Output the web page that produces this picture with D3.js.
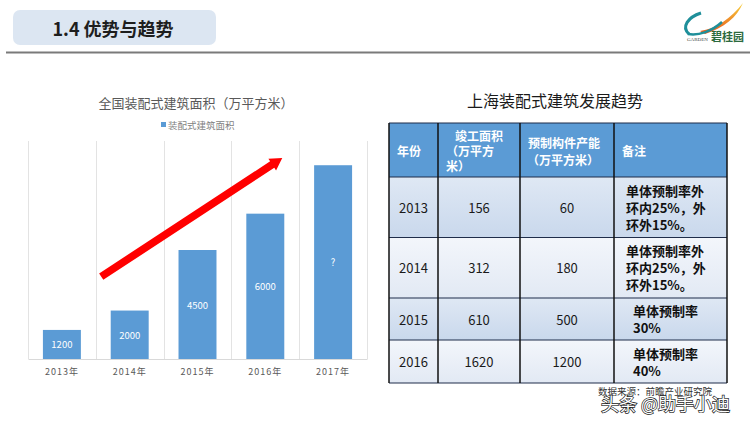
<!DOCTYPE html>
<html>
<head>
<meta charset="utf-8">
<script src="https://cdn.jsdelivr.net/npm/d3@7"></script>
<style>
  html, body { margin: 0; padding: 0; background: #fff; }
  svg { display: block; font-family: "Noto Sans CJK SC", "Noto Sans", sans-serif; }
</style>
</head>
<body>
<script>
// bar chart data
var chartYears = ["2013年", "2014年", "2015年", "2016年", "2017年"];
var areaValues = [1200, 2000, 4500, 6000, 8000];
var barLabels = ["1200", "2000", "4500", "6000", "?"];

// table data
var tableHeaders = [["年份"], ["竣工面积", "（万平方", "米）"], ["预制构件产能", "（万平方米）"], ["备注"]];
var tableYears = ["2013", "2014", "2015", "2016"];
var completedArea = ["156", "312", "610", "1620"];
var prefabCapacity = ["60", "180", "500", "1200"];
var tableNotes = [
	["单体预制率外", "环内25%，外", "环外15%。"],
	["单体预制率外", "环内25%，外", "环外15%。"],
	["单体预制率", "30%"],
	["单体预制率", "40%"]
];

var width = 750, height = 421;
var svg = d3.select("body")
	.append("svg")
		.attr("width", width)
		.attr("height", height);

var defs = svg.append("defs");
function addGrad(id, top, bottom) {
	var g = defs.append("linearGradient").attr("id", id)
		.attr("x1", 0).attr("y1", 0).attr("x2", 0).attr("y2", 1);
	g.append("stop").attr("offset", "0%").attr("stop-color", top);
	g.append("stop").attr("offset", "100%").attr("stop-color", bottom);
}
addGrad("rowDark", "#dfe8f4", "#c9d8ec");
addGrad("rowLight", "#f3f6fb", "#e2e9f4");
addGrad("flame", "#f7d23c", "#e8561c");

// ---------- header ----------
svg.append("rect")
		.attr("x", 13).attr("y", 10)
		.attr("width", 203).attr("height", 35)
		.attr("rx", 7).attr("ry", 7)
		.attr("fill", "#dce6f2");
svg.append("text")
		.attr("x", 113).attr("y", 28)
		.attr("text-anchor", "middle")
		.attr("dominant-baseline", "central")
		.attr("font-size", 18)
		.attr("font-weight", "bold")
		.attr("fill", "#1e1e1e")
		.text("1.4 优势与趋势");
svg.append("line")
		.attr("x1", 6).attr("x2", 750)
		.attr("y1", 52.5).attr("y2", 52.5)
		.attr("stroke", "#7a7a7a")
		.attr("stroke-width", 2);

// logo
var logo = svg.append("g");
logo.append("path")
		.attr("d", "M700,31 C716,29 731,18 743,3 C737,17 724,28 705,34 Z")
		.attr("fill", "url(#flame)");
logo.append("path")
		.attr("d", "M689,34 C681,27 688,17 701,13")
		.attr("fill", "none").attr("stroke", "#1f8f9a").attr("stroke-width", 3);
logo.append("path")
		.attr("d", "M688,34 C699,36 712,31 722,22")
		.attr("fill", "none").attr("stroke", "#1f8f9a").attr("stroke-width", 2.5);
logo.append("text")
		.attr("x", 687).attr("y", 41)
		.attr("font-size", 5)
		.attr("fill", "#444")
		.attr("font-family", "Liberation Serif, serif")
		.text("GARDEN");
logo.append("text")
		.attr("x", 711).attr("y", 41)
		.attr("font-size", 11)
		.attr("font-weight", "bold")
		.attr("fill", "#2d6a3e")
		.text("碧桂园");

// ---------- bar chart ----------
var plot = { left: 28, right: 367, top: 141, bottom: 359 };

svg.append("text")
		.attr("x", 196).attr("y", 102)
		.attr("text-anchor", "middle")
		.attr("dominant-baseline", "central")
		.attr("font-size", 13)
		.attr("fill", "#595959")
		.text("全国装配式建筑面积（万平方米）");

svg.append("rect")
		.attr("x", 161).attr("y", 122)
		.attr("width", 5).attr("height", 5)
		.attr("fill", "#5b9bd5");
svg.append("text")
		.attr("x", 168).attr("y", 125)
		.attr("dominant-baseline", "central")
		.attr("font-size", 9.5)
		.attr("fill", "#7f7f7f")
		.text("装配式建筑面积");

var x = d3.scaleBand()
		.domain(chartYears)
		.range([plot.left, plot.right])
		.paddingInner(0.44)
		.paddingOuter(0.22);
var band = d3.scaleBand()
		.domain(chartYears)
		.range([plot.left, plot.right]);
var y = d3.scaleLinear()
		.domain([0, 9000])
		.range([plot.bottom, plot.top]);

// vertical category gridlines
var gridX = chartYears.map(function(d) { return band(d); }).concat([plot.right]);
svg.append("g")
	.selectAll("line")
		.data(gridX)
	.enter()
	.append("line")
		.attr("x1", function(d) { return Math.round(d) + 0.5; })
		.attr("x2", function(d) { return Math.round(d) + 0.5; })
		.attr("y1", plot.top)
		.attr("y2", plot.bottom)
		.attr("stroke", "#e3e3e3")
		.attr("stroke-width", 1);

svg.append("g")
	.selectAll("rect")
		.data(areaValues)
	.enter()
	.append("rect")
		.attr("x", function(d, i) { return x(chartYears[i]); })
		.attr("y", function(d) { return y(d); })
		.attr("width", x.bandwidth())
		.attr("height", function(d) { return y(0) - y(d); })
		.attr("fill", "#5b9bd5");

svg.append("g")
	.selectAll("text")
		.data(areaValues)
	.enter()
	.append("text")
		.attr("x", function(d, i) { return x(chartYears[i]) + x.bandwidth() / 2; })
		.attr("y", function(d) { return (y(d) + y(0)) / 2; })
		.attr("text-anchor", "middle")
		.attr("dominant-baseline", "central")
		.attr("font-size", 9.5)
		.attr("fill", "#fff")
		.text(function(d, i) { return barLabels[i]; });

var xAxis = svg.append("g")
		.attr("transform", "translate(0," + plot.bottom + ")")
		.call(d3.axisBottom(band).tickSize(0).tickPadding(10));
xAxis.select(".domain").attr("stroke", "#d9d9d9");
xAxis.selectAll("text")
		.attr("font-size", 9)
		.attr("letter-spacing", 1)
		.attr("fill", "#595959")
		.attr("font-family", "Noto Sans CJK SC, sans-serif");

// red trend arrow (positioned in data space)
var arrowFrom = { cat: "2014年", offset: 0.08, value: 3400 };
var arrowTo = { cat: "2016年", offset: 0.75, value: 8300 };
function pt(a) { return [band(a.cat) + a.offset * band.bandwidth(), y(a.value)]; }
var p0 = pt(arrowFrom), p1 = pt(arrowTo);
var dx = p1[0] - p0[0], dy = p1[1] - p0[1], len = Math.sqrt(dx * dx + dy * dy);
var ux = dx / len, uy = dy / len, nx = -uy, ny = ux;
var headLen = 12, headW = 7, shaftW = 3.8;
var hb = [p1[0] - ux * headLen, p1[1] - uy * headLen];
var arrowPts = [
	[p0[0] + nx * shaftW, p0[1] + ny * shaftW],
	[hb[0] + nx * shaftW, hb[1] + ny * shaftW],
	[hb[0] + nx * headW, hb[1] + ny * headW],
	p1,
	[hb[0] - nx * headW, hb[1] - ny * headW],
	[hb[0] - nx * shaftW, hb[1] - ny * shaftW],
	[p0[0] - nx * shaftW, p0[1] - ny * shaftW]
];
svg.append("polygon")
		.attr("points", arrowPts.map(function(p) { return p.join(","); }).join(" "))
		.attr("fill", "#ff0000");

// ---------- table ----------
svg.append("text")
		.attr("x", 555).attr("y", 100)
		.attr("text-anchor", "middle")
		.attr("dominant-baseline", "central")
		.attr("font-size", 16)
		.attr("fill", "#1a1a1a")
		.text("上海装配式建筑发展趋势");

var colEdges = [389, 438, 520, 614, 727];
var rowEdges = [123, 177, 237.5, 298, 340, 383];

var tbl = svg.append("g");
tbl.append("rect")
		.attr("x", colEdges[0]).attr("y", rowEdges[0])
		.attr("width", colEdges[4] - colEdges[0])
		.attr("height", rowEdges[1] - rowEdges[0])
		.attr("fill", "#5b9bd5");
tbl.selectAll("rect.row")
		.data(tableYears)
	.enter()
	.append("rect")
		.attr("class", "row")
		.attr("x", colEdges[0])
		.attr("y", function(d, i) { return rowEdges[i + 1]; })
		.attr("width", colEdges[4] - colEdges[0])
		.attr("height", function(d, i) { return rowEdges[i + 2] - rowEdges[i + 1]; })
		.attr("fill", function(d, i) { return i % 2 === 0 ? "url(#rowDark)" : "url(#rowLight)"; });

// header texts
var headerX = [[397], [455, 446, 446], [528, 527], [622]];
var headerY = [[150], [135, 150, 165], [142, 159], [150]];
tableHeaders.forEach(function(lines, c) {
	lines.forEach(function(t, k) {
		tbl.append("text")
				.attr("x", headerX[c][k])
				.attr("y", headerY[c][k])
				.attr("dominant-baseline", "central")
				.attr("font-size", 12)
				.attr("font-weight", "bold")
				.attr("fill", "#fff")
				.text(t);
	});
});

// body
tableYears.forEach(function(yr, i) {
	var cy = (rowEdges[i + 1] + rowEdges[i + 2]) / 2;
	[yr, completedArea[i], prefabCapacity[i]].forEach(function(v, c) {
		tbl.append("text")
				.attr("x", (colEdges[c] + colEdges[c + 1]) / 2)
				.attr("y", cy)
				.attr("text-anchor", "middle")
				.attr("dominant-baseline", "central")
				.attr("font-size", 13)
				.attr("fill", "#1a1a1a")
				.text(v);
	});
	var lines = tableNotes[i];
	var noteX = lines.length > 2 ? 626 : 633;
	lines.forEach(function(t, k) {
		tbl.append("text")
				.attr("x", noteX)
				.attr("y", cy + (k - (lines.length - 1) / 2) * 17)
				.attr("dominant-baseline", "central")
				.attr("font-size", 13)
				.attr("font-weight", "bold")
				.attr("fill", "#111")
				.text(t);
	});
});

// grid lines of table
tbl.selectAll("line.h")
		.data(rowEdges)
	.enter()
	.append("line")
		.attr("x1", colEdges[0]).attr("x2", colEdges[4])
		.attr("y1", function(d) { return d; })
		.attr("y2", function(d) { return d; })
		.attr("stroke", "#1f2d4a")
		.attr("stroke-width", 1.2);
tbl.selectAll("line.v")
		.data(colEdges)
	.enter()
	.append("line")
		.attr("x1", function(d) { return d; })
		.attr("x2", function(d) { return d; })
		.attr("y1", rowEdges[0]).attr("y2", rowEdges[rowEdges.length - 1])
		.attr("stroke", "#111")
		.attr("stroke-width", 1.5);

// ---------- watermark ----------
svg.append("text")
		.attr("x", 598).attr("y", 395)
		.attr("font-size", 9.5)
		.attr("fill", "#333")
		.text("数据来源：前瞻产业研究院");
svg.append("text")
		.attr("x", 601).attr("y", 403)
		.attr("dominant-baseline", "central")
		.attr("font-size", 18)
		.attr("fill", "#fff")
		.attr("stroke", "#222")
		.attr("stroke-width", 1.4)
		.attr("paint-order", "stroke")
		.text("头条 @助手小迪");
</script>
</body>
</html>
